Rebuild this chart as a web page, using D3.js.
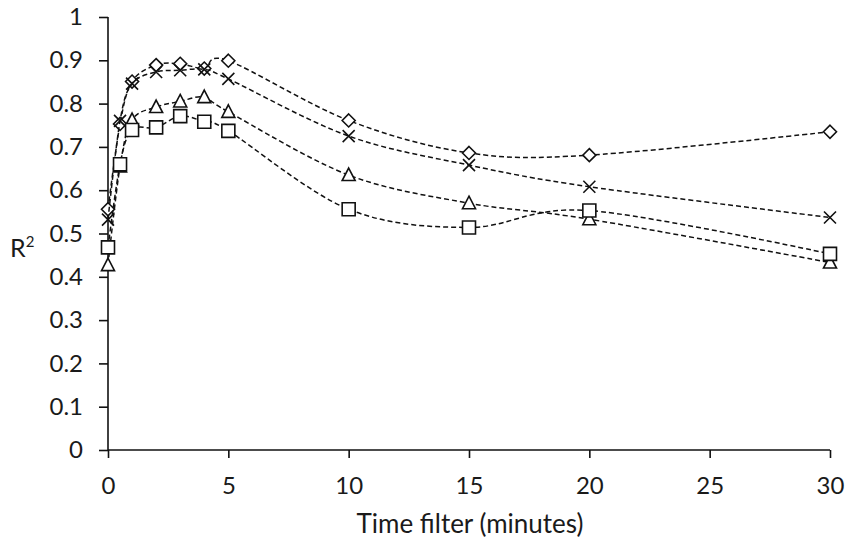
<!DOCTYPE html>
<html>
<head>
<meta charset="utf-8">
<script src="https://cdn.jsdelivr.net/npm/d3@7"></script>
<style>
  body { margin: 0; background: #fff; }
  text { font-family: Lato, "Open Sans", sans-serif; fill: #1a1a1a; }
</style>
</head>
<body>
<svg id="chart" width="851" height="544"></svg>
<script>
// time filter in minutes
const times = [0, 0.5, 1, 2, 3, 4, 5, 10, 15, 20, 30]

// R² per series
const diamondVals = [0.556, 0.753, 0.851, 0.889, 0.892, 0.881, 0.899, 0.761, 0.686, 0.681, 0.735]
const crossVals = [0.532, 0.760, 0.846, 0.873, 0.877, 0.879, 0.857, 0.725, 0.658, 0.608, 0.537]
const triangleVals = [0.427, 0.655, 0.762, 0.792, 0.805, 0.815, 0.781, 0.635, 0.570, 0.533, 0.433]
const squareVals = [0.468, 0.660, 0.739, 0.745, 0.771, 0.758, 0.737, 0.556, 0.514, 0.553, 0.453]

const xTicks = [0, 5, 10, 15, 20, 25, 30]
const yTicks = [0, 0.1, 0.2, 0.3, 0.4, 0.5, 0.6, 0.7, 0.8, 0.9, 1]

const series = [
  { name: 'diamond', values: diamondVals },
  { name: 'cross', values: crossVals },
  { name: 'triangle', values: triangleVals },
  { name: 'square', values: squareVals },
]

let svg = d3.select('#chart')
let grid = { left: 108, right: 830, top: 17, bottom: 450 }

let scaleX = d3.scaleLinear().domain([0, 30]).range([grid.left, grid.right])
let scaleY = d3.scaleLinear().domain([0, 1]).range([grid.bottom, grid.top])

// axes
let xAxis = svg.append('g')
  .attr('transform', `translate(0, ${grid.bottom})`)
  .call(d3.axisBottom(scaleX).tickValues(xTicks).tickSize(8).tickPadding(19).tickFormat(d3.format('d')))
let yAxis = svg.append('g')
  .attr('transform', `translate(${grid.left}, 0)`)
  .call(d3.axisLeft(scaleY).tickValues(yTicks).tickSize(9).tickPadding(16).tickFormat(d => d === 0 || d === 1 ? d : d3.format('.1f')(d)))

;[xAxis, yAxis].forEach(ax => {
  ax.select('.domain').attr('stroke', '#111').attr('stroke-width', 1.6)
  ax.selectAll('.tick line').attr('stroke', '#111').attr('stroke-width', 1.6)
  ax.selectAll('.tick text').style('font-size', '24px').attr('fill', '#1a1a1a')
})
// axis line without outer ticks
xAxis.select('.domain').attr('d', `M${grid.left},0H${grid.right}`)
yAxis.select('.domain').attr('d', `M0,${grid.top}V${grid.bottom}`)

svg.append('text')
  .attr('x', 470)
  .attr('y', 533)
  .attr('text-anchor', 'middle')
  .style('font-size', '26px')
  .text('Time filter (minutes)')

let rLabel = svg.append('text')
  .attr('x', 10)
  .attr('y', 257)
  .style('font-size', '25px')
rLabel.append('tspan').text('R')
rLabel.append('tspan').attr('dy', -10).style('font-size', '15px').text('2')

let line = d3.line()
  .x((d, i) => scaleX(times[i]))
  .y(d => scaleY(d))
  .curve(d3.curveCatmullRom.alpha(0))

const markerPath = {
  diamond: 'M0,-6.5L6.5,0L0,6.5L-6.5,0Z',
  cross: 'M-6,-6L6,6M-6,6L6,-6',
  triangle: 'M0,-7L6.5,5.5L-6.5,5.5Z',
  square: 'M-6.5,-6.5H6.5V6.5H-6.5Z',
}

series.forEach(s => {
  let layer = svg.append('g').attr('class', `series-${s.name}`)
  layer.append('path')
    .attr('d', line(s.values))
    .attr('fill', 'none')
    .attr('stroke', '#111')
    .attr('stroke-width', 1.5)
    .attr('stroke-dasharray', '5,3')

  layer.selectAll('path.marker')
    .data(s.values)
    .join('path')
    .attr('class', 'marker')
    .attr('transform', (d, i) => `translate(${scaleX(times[i])}, ${scaleY(d)})`)
    .attr('d', markerPath[s.name])
    .attr('fill', s.name === 'cross' ? 'none' : '#fff')
    .attr('stroke', '#111')
    .attr('stroke-width', 1.6)
})
</script>
</body>
</html>
